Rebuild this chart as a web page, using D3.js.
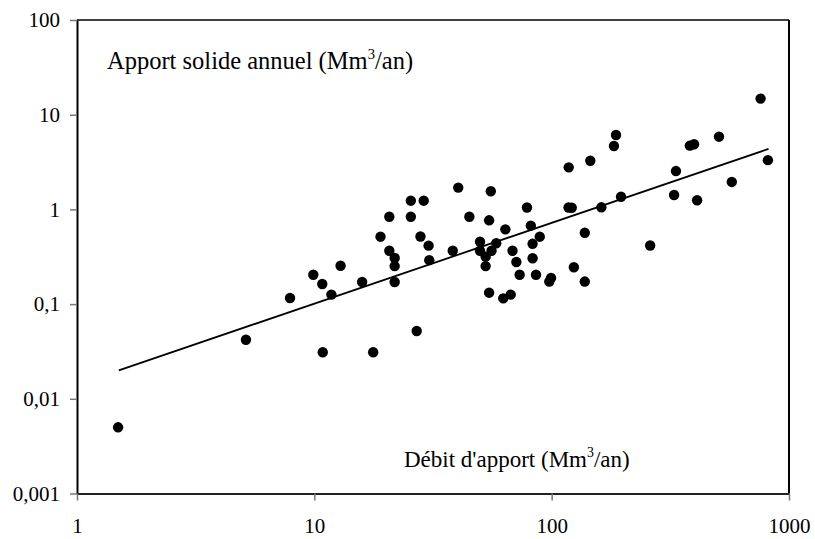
<!DOCTYPE html>
<html>
<head>
<meta charset="utf-8">
<script src="https://cdn.jsdelivr.net/npm/d3@7/dist/d3.min.js"></script>
<style>
  html, body { margin: 0; padding: 0; background: #fff; }
  svg { display: block; }
  text { font-family: "Liberation Serif", "Times New Roman", serif; fill: #000; }
</style>
</head>
<body>
<svg id="chart" width="815" height="539"></svg>
<script>
// Débit d'apport (Mm3/an)
const debit = [1.49, 5.15, 7.9, 9.9, 10.8, 11.8, 12.9, 10.85, 17.7, 27, 15.9, 21.8, 21.8, 21.8, 20.7, 19.0, 20.7, 25.5, 25.5, 28.9, 28.0, 30.3, 30.5, 38.3, 40.4, 45, 49.9, 49.9, 52.7, 52.7, 55.4, 54.5, 55.8, 58.4, 63.8, 68.4, 71, 73.3, 78.7, 81.7, 89.1, 83.1, 83.1, 85.9, 97.7, 99.4, 54.5, 62.5, 67.2, 118, 117.8, 121.5, 124, 145.5, 137.9, 137.9, 162, 196, 186.7, 183, 260, 334, 328, 410, 382, 398, 507, 574, 759, 815];
// Apport solide annuel (Mm3/an)
const apport = [0.005, 0.042, 0.116, 0.204, 0.163, 0.126, 0.254, 0.031, 0.031, 0.052, 0.171, 0.171, 0.252, 0.307, 0.366, 0.515, 0.837, 0.837, 1.236, 1.236, 0.517, 0.414, 0.291, 0.366, 1.70, 0.837, 0.455, 0.366, 0.317, 0.252, 1.556, 0.767, 0.366, 0.439, 0.616, 0.366, 0.278, 0.204, 1.047, 0.673, 0.515, 0.433, 0.305, 0.204, 0.173, 0.189, 0.132, 0.115, 0.126, 2.78, 1.047, 1.04, 0.245, 3.26, 0.566, 0.173, 1.052, 1.36, 6.1, 4.67, 0.416, 2.54, 1.42, 1.25, 4.71, 4.87, 5.86, 1.95, 14.8, 3.31];
// Power trend line end points
const trendX = [1.5, 820];
const trendY = [0.02, 4.35];
// Tick labels
const xTicks = [1, 10, 100, 1000];
const xTickLabels = ["1", "10", "100", "1000"];
const yTicks = [0.001, 0.01, 0.1, 1, 10, 100];
const yTickLabels = ["0,001", "0,01", "0,1", "1", "10", "100"];

const svg = d3.select("#chart");
const L = 77, R = 789, T = 20, B = 493.5;

const x = d3.scaleLog().domain([1, 1000]).range([L, R]);
const y = d3.scaleLog().domain([0.001, 100]).range([B, T]);

// frame (top & right)
svg.append("line").attr("x1", L).attr("x2", R).attr("y1", T).attr("y2", T)
  .attr("stroke", "#000").attr("stroke-width", 1.5);
svg.append("line").attr("x1", R).attr("x2", R).attr("y1", T).attr("y2", B)
  .attr("stroke", "#000").attr("stroke-width", 2);

// Y axis
const yAxis = d3.axisLeft(y).tickValues(yTicks)
  .tickFormat((d, i) => yTickLabels[i]).tickSizeInner(7).tickSizeOuter(0).tickPadding(10);
const gy = svg.append("g").attr("transform", `translate(${L},0)`).call(yAxis);
gy.select(".domain").attr("stroke", "#000").attr("stroke-width", 2);
gy.selectAll(".tick line").attr("stroke", "#777").attr("stroke-width", 1.5);
gy.selectAll(".tick text").attr("font-size", 21).attr("font-family", "Liberation Serif").attr("fill", "#000");

// X axis
const xAxis = d3.axisBottom(x).tickValues(xTicks)
  .tickFormat((d, i) => xTickLabels[i]).tickSizeInner(7).tickSizeOuter(0).tickPadding(18);
const gx = svg.append("g").attr("transform", `translate(0,${B})`).call(xAxis);
gx.select(".domain").attr("stroke", "#222").attr("stroke-width", 2);
gx.selectAll(".tick line").attr("stroke", "#777").attr("stroke-width", 1.5);
gx.selectAll(".tick text").attr("font-size", 21).attr("font-family", "Liberation Serif").attr("fill", "#000");

// trend line
const trend = trendX.map((d, i) => [d, trendY[i]]);
svg.append("path").datum(trend)
  .attr("d", d3.line().x(d => x(d[0])).y(d => y(d[1])))
  .attr("fill", "none").attr("stroke", "#000").attr("stroke-width", 1.8);

// points
const pts = debit.map((d, i) => ({ q: d, s: apport[i] }));
svg.append("g").selectAll("circle").data(pts).join("circle")
  .attr("cx", d => x(d.q)).attr("cy", d => y(d.s)).attr("r", 5.2).attr("fill", "#000");

// labels
function label(xp, yp, fs, pre, post) {
  const t = svg.append("text").attr("x", xp).attr("y", yp).attr("font-size", fs);
  t.append("tspan").text(pre);
  t.append("tspan").attr("dy", -fs * 0.42).attr("font-size", fs * 0.6).text("3");
  t.append("tspan").attr("dy", fs * 0.42).text(post);
}
label(107, 69, 24.5, "Apport solide annuel (Mm", "/an)");
label(404, 467, 23, "Débit d'apport (Mm", "/an)");
</script>
</body>
</html>
